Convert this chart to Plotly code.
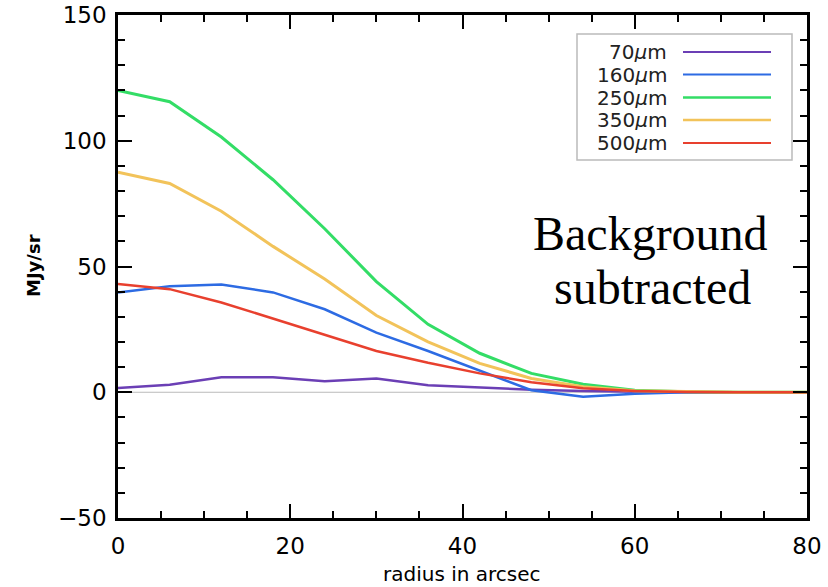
import plotly.graph_objects as go

# radial profiles, sampled every 6 arcsec out to the plot edge
radius = [0, 6, 12, 18, 24, 30, 36, 42, 48, 54, 60, 66, 72, 78, 80]
bands = ["70<i>\u03bc</i>m", "160<i>\u03bc</i>m", "250<i>\u03bc</i>m",
         "350<i>\u03bc</i>m", "500<i>\u03bc</i>m"]
p70 = [1.7, 3.0, 6.0, 6.0, 4.4, 5.5, 2.8, 2.0, 1.0, 0.5, 0.2, 0.0, 0.0, 0.0, 0.0]
p160 = [39.7, 42.1, 42.8, 39.7, 33.0, 23.7, 16.4, 8.5, 0.8, -1.8, -0.6, 0.0, 0.0, 0.0, 0.0]
p250 = [120.0, 115.5, 101.5, 84.5, 65.0, 44.0, 27.0, 15.5, 7.5, 3.2, 0.8, 0.2, 0.0, 0.0, 0.0]
p350 = [87.5, 83.0, 72.0, 58.0, 45.0, 30.5, 20.0, 11.5, 5.5, 2.2, 0.6, 0.2, 0.0, 0.0, 0.0]
p500 = [43.0, 41.0, 35.7, 29.2, 23.0, 16.4, 11.7, 7.5, 4.0, 1.6, 0.5, 0.1, 0.0, 0.0, 0.0]
profiles = [p70, p160, p250, p350, p500]
colors = ["#6b3fb5", "#2d6be3", "#33dd66", "#f2c35a", "#e8402e"]
widths = [2.5, 2.5, 3, 3, 2.5]

FONT = "DejaVu Sans"

W, H = 828, 587
L, R, T, B = 118, 21, 15, 69
pw, ph = W - L - R, H - T - B


def px(xp):
    return (xp - L) / pw


def py(yp):
    return 1 - (yp - T) / ph


fig = go.Figure()

# zero reference line
fig.add_hline(y=0, line=dict(color="#bbbbbb", width=1), layer="below")

for name, vals, col, w in zip(bands, profiles, colors, widths):
    fig.add_trace(go.Scatter(x=radius, y=vals, mode="lines", name=name,
                             line=dict(color=col, width=w), showlegend=False))

# legend box: label, then line sample
lx0, lx1, ly0, ly1 = 577, 792, 34, 160
fig.add_shape(type="rect", xref="paper", yref="paper",
              x0=px(lx0), x1=px(lx1), y0=py(ly1), y1=py(ly0),
              line=dict(color="#bbbbbb", width=1.5), fillcolor="white")
rows = [52, 74.5, 97.5, 120, 143]
for name, col, w, ry in zip(bands, colors, widths, rows):
    fig.add_annotation(xref="paper", yref="paper", x=px(668), y=py(ry),
                       text=name, showarrow=False, xanchor="right",
                       yanchor="middle", height=20, borderpad=0,
                       font=dict(family=FONT, size=20, color="#222222"))
    fig.add_shape(type="line", xref="paper", yref="paper",
                  x0=px(683), x1=px(771), y0=py(ry), y1=py(ry),
                  line=dict(color=col, width=w - 0.5))

fig.add_annotation(xref="paper", yref="paper", x=px(650), y=py(233),
                   text="Background", showarrow=False, xanchor="center",
                   yanchor="middle",
                   font=dict(family="Liberation Serif", size=48, color="black"))
fig.add_annotation(xref="paper", yref="paper", x=px(652), y=py(287),
                   text="subtracted", showarrow=False, xanchor="center",
                   yanchor="middle",
                   font=dict(family="Liberation Serif", size=48, color="black"))

# axis titles placed as free text
fig.add_annotation(xref="paper", yref="paper", x=px(462), y=py(574),
                   text="radius in arcsec", showarrow=False,
                   xanchor="center", yanchor="middle",
                   font=dict(family=FONT, size=20, color="black"))
fig.add_annotation(xref="paper", yref="paper", x=px(33), y=py(266),
                   text="<b>MJy/sr</b>", showarrow=False, textangle=-90,
                   xanchor="center", yanchor="middle",
                   font=dict(family=FONT, size=18, color="black"))

axis_common = dict(showgrid=False, zeroline=False, showline=True,
                   linecolor="black", linewidth=2.5, mirror="allticks",
                   ticks="inside", tickcolor="black", tickwidth=2,
                   automargin=False,
                   tickfont=dict(family=FONT, size=23, color="black"))

fig.update_xaxes(range=[0, 80], dtick=20, ticklen=14, ticklabelstandoff=6,
                 minor=dict(dtick=5, ticks="inside", ticklen=7,
                            tickcolor="black", tickwidth=2),
                 **axis_common)
fig.update_yaxes(range=[-50, 150], dtick=50, ticklen=14, ticklabelstandoff=4,
                 minor=dict(dtick=10, ticks="inside", ticklen=7,
                            tickcolor="black", tickwidth=2),
                 **axis_common)

fig.update_layout(width=W, height=H, margin=dict(l=L, r=R, t=T, b=B),
                  plot_bgcolor="white", paper_bgcolor="white")

fig.write_html("out.html")
